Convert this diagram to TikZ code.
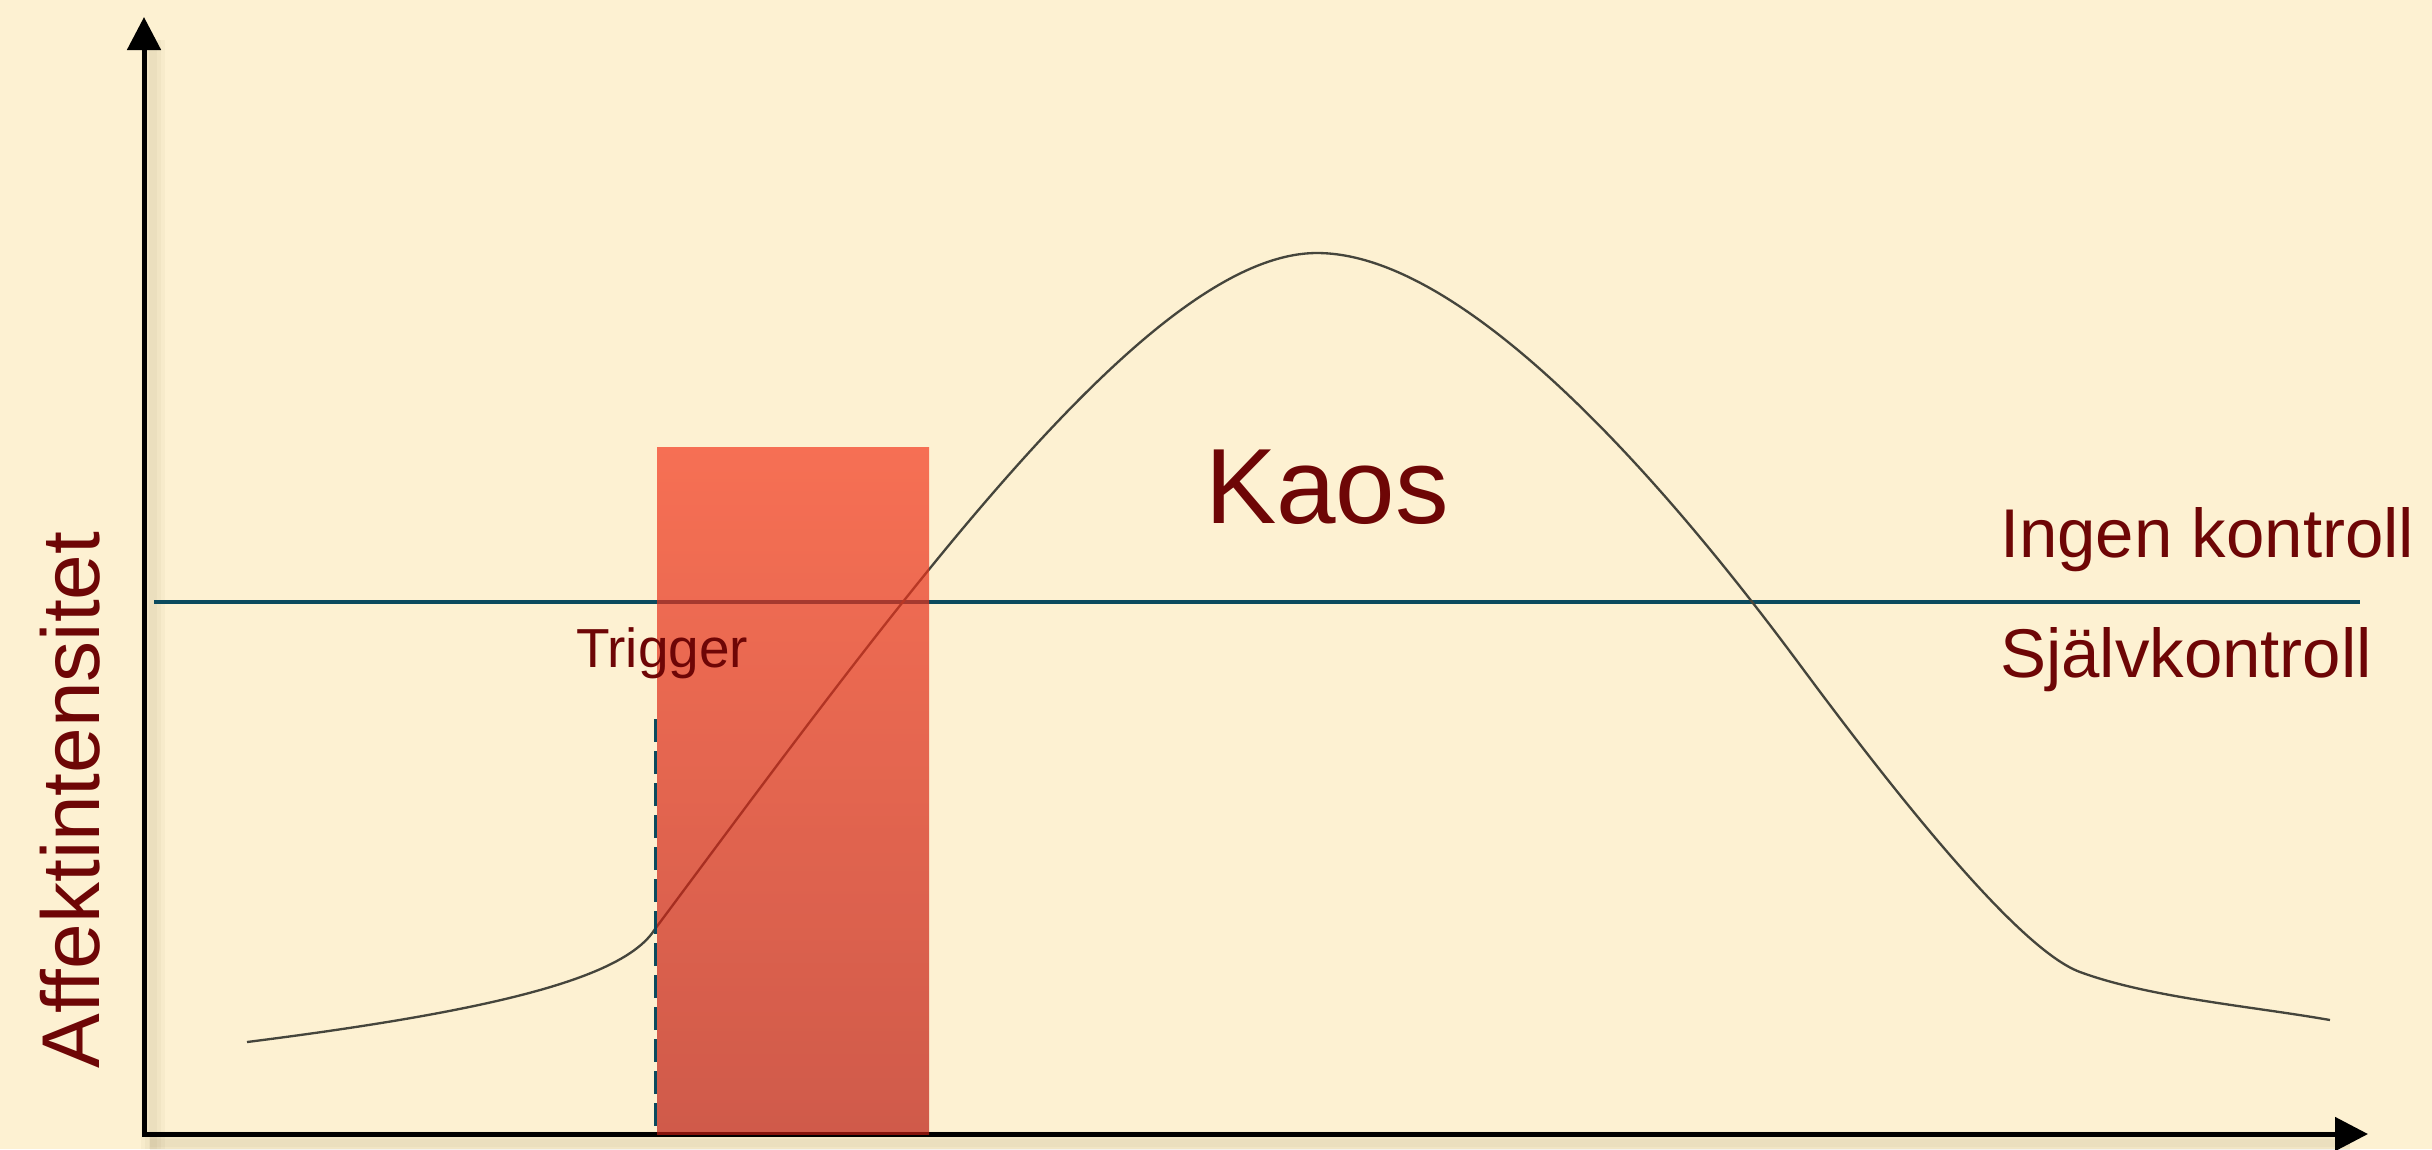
\documentclass[tikz,border=0pt]{standalone}
\usepackage{fontspec}
\setmainfont{Liberation Sans}
\usetikzlibrary{arrows.meta}
\definecolor{bgc}{HTML}{FDF1D2}
\definecolor{txtc}{HTML}{6E0606}
\definecolor{linec}{HTML}{0B4A5E}
\definecolor{rtop}{RGB}{244,57,31}
\definecolor{rbot}{RGB}{189,27,17}
\definecolor{curvec}{HTML}{45453C}
\definecolor{shadc}{HTML}{5A4A20}
\begin{document}
\begin{tikzpicture}[x=0.3pt,y=-0.3pt,
  axis/.style={line width=1.5pt,black,-{Triangle[length=9.9pt,width=9.9pt]}},
  axshadow/.style={shadc,opacity=0.035},
  label/.style={text=txtc,inner sep=0pt,outer sep=0pt},
  divider/.style={line width=1.2pt,linec},
  trigline/.style={line width=0.9pt,linec,dash pattern=on 6.9pt off 2.7pt},
  curve/.style={line width=0.7pt,curvec},
  zone/.style={top color=rtop,bottom color=rbot,fill opacity=0.7,draw=none}]
\fill[bgc] (0,0) rectangle (2432,1149);
\useasboundingbox (0,0) rectangle (2432,1149);
% coordinates
\coordinate (O) at (144,1136);
\coordinate (Ox) at (142,1134);
\coordinate (ytop) at (144,17);
\coordinate (xend) at (2368,1134);
\coordinate (dl) at (154,602);
\coordinate (dr) at (2360,602);
\coordinate (tt) at (655,719);
\coordinate (tb) at (655,1134);
\coordinate (c0) at (247,1042);
\coordinate (c1) at (655,929);
\coordinate (peak) at (1317,253);
\coordinate (c3) at (1800,665);
\coordinate (c4) at (2080,972);
\coordinate (c5) at (2330,1020);
% axis shadows
\foreach \w in {7.2pt,4.8pt,2.4pt}{
  \draw[axshadow,line width=\w] (153,40) -- (153,1149);
  \draw[axshadow,line width=\w] (150,1143) -- (2350,1143);
}
% divider line
\draw[divider] (dl) -- (dr);
% curve
\draw[curve] (c0) .. controls (500,1010) and (625,977) .. (c1)
  .. controls (900,600) and (1150,253) .. (peak)
  .. controls (1480,253) and (1700,530) .. (c3)
  .. controls (1900,800) and (2020,950) .. (c4)
  .. controls (2150,997.7) and (2250,1006) .. (c5);
% trigger line
\draw[trigline] (tt) -- (tb);
% axes
\draw[axis] (O) -- (ytop);
\draw[axis] (Ox) -- (xend);
% red zone
\shade[zone] (657,447) rectangle (929,1134);
% labels
\node[label,anchor=base west,font=\fontsize{16.5pt}{18pt}\selectfont] (trig) at (576,667) {Trigger};
\node[label,anchor=base west,font=\fontsize{32.1pt}{36pt}\selectfont] (kaos) at (1205,523) {Kaos};
\node[label,anchor=base west,font=\fontsize{20.7pt}{24pt}\selectfont] (ingen) at (2000,557) {Ingen kontroll};
\node[label,anchor=base west,font=\fontsize{20.7pt}{24pt}\selectfont] (sjalv) at (2000,677) {Självkontroll};
\node[label,anchor=base west,rotate=90,font=\fontsize{24.6pt}{28pt}\selectfont] (affekt) at (99,1068) {Affektintensitet};
\end{tikzpicture}
\end{document}
